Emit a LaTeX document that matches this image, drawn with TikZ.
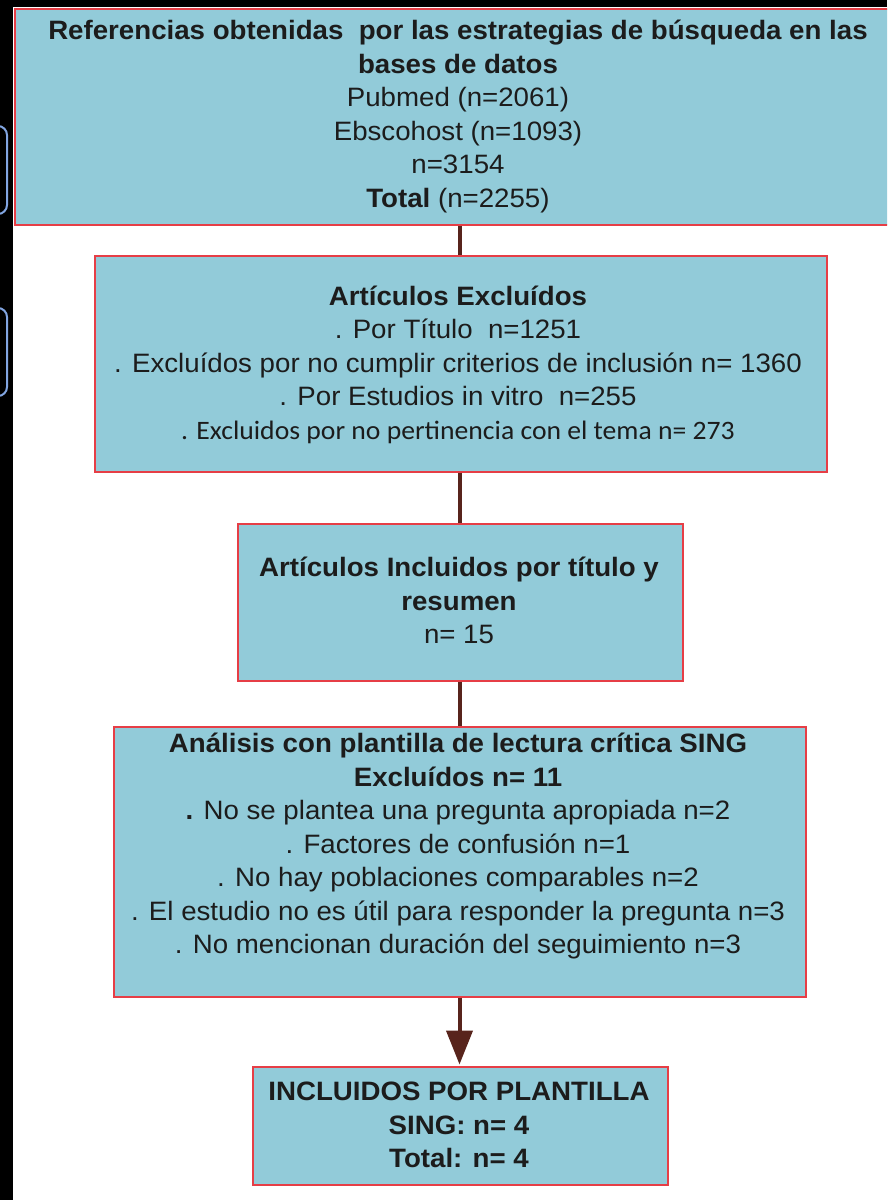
\documentclass[tikz,border=0pt]{standalone}
\usepackage{fontspec}
\setmainfont{Liberation Sans}[FakeStretch=1.04]
\newfontfamily\calfont{Carlito}[FakeStretch=1.04]
\usetikzlibrary{arrows.meta}
\definecolor{boxfill}{RGB}{146,203,217}
\definecolor{boxedge}{RGB}{230,62,70}
\definecolor{linkcol}{RGB}{88,36,28}
\definecolor{tabcol}{RGB}{130,165,225}
\definecolor{txtcol}{RGB}{28,28,28}
\tikzset{
  flowbox/.style={draw=boxedge, line width=2pt, fill=boxfill},
  boxtext/.style={anchor=north, inner sep=0pt, align=center, text=txtcol,
    font=\fontsize{26.6}{33.5}\selectfont},
  link/.style={draw=linkcol, line width=4pt},
  tab/.style={draw=tabcol, line width=2pt, rounded corners=9pt}
}
\begin{document}
\begin{tikzpicture}[x=1pt,y=-1pt]
\useasboundingbox (0,0) rectangle (887,1200);
\fill[white] (0,0) rectangle (887,1200);
\fill[black] (0,0) rectangle (13,1200);
\fill[black] (0,0) rectangle (887,7);
\begin{scope}
\clip (0,0) rectangle (13,1200);
\draw[tab] (-60,126) rectangle (7,214);
\draw[tab] (-60,308) rectangle (7,396);
\end{scope}
% boxes
\begin{scope}
\clip (0,0) rectangle (887,1200);
\node[flowbox, anchor=north west, minimum width=892pt, minimum height=216pt, inner sep=0pt] (b1) at (14,8) {};
\end{scope}
\node[flowbox, anchor=north west, minimum width=732pt, minimum height=216pt, inner sep=0pt] (b2) at (94,254.5) {};
\node[flowbox, anchor=north west, minimum width=445pt, minimum height=157pt, inner sep=0pt] (b3) at (237,522.5) {};
\node[flowbox, anchor=north west, minimum width=692pt, minimum height=270pt, inner sep=0pt] (b4) at (113,725.5) {};
\node[flowbox, anchor=north west, minimum width=415pt, minimum height=118pt, inner sep=0pt] (b5) at (252,1065.5) {};
% texts
\node[boxtext] (t1) at (458,39.5-23.45) {\strut\textbf{Referencias obtenidas\ \ por las estrategias de búsqueda en las}\\
  \textbf{bases de datos}\\ Pubmed (n=2061)\\ Ebscohost (n=1093)\\ n=3154\\ \textbf{Total} (n=2255)};
\node[boxtext] (t2) at (458,305-23.45) {\strut\textbf{Artículos Excluídos}\\ . Por Título\ \ n=1251\\
  . Excluídos por no cumplir criterios de inclusión n= 1360\\ . Por Estudios in vitro\ \ n=255\\
  {\calfont . Excluidos por no pertinencia con el tema n= 273}};
\node[boxtext] (t3) at (459,576.5-23.45) {\strut\textbf{Artículos Incluidos por título y}\\ \textbf{resumen}\\ n= 15};
\node[boxtext] (t4) at (458,752.5-23.45) {\strut\textbf{Análisis con plantilla de lectura crítica SING}\\
  \textbf{Excluídos n= 11}\\ \textbf{.} No se plantea una pregunta apropiada n=2\\ . Factores de confusión n=1\\
  . No hay poblaciones comparables n=2\\ . El estudio no es útil para responder la pregunta n=3\\
  . No mencionan duración del seguimiento n=3};
\node[boxtext] (t5) at (459,1100.5-23.45) {\strut\textbf{INCLUIDOS POR PLANTILLA}\\ \textbf{SING: n= 4}\\ \textbf{Total: n= 4}};
% connectors
\draw[link] (b1.south -| 459.5,0) -- (b2.north -| 459.5,0);
\draw[link] (b2.south -| 459.5,0) -- (b3.north -| 459.5,0);
\draw[link] (b3.south -| 459.5,0) -- (b4.north -| 459.5,0);
\draw[link, -{Triangle[length=34pt,width=26pt]}, shorten >=1pt] (b4.south -| 459.5,0) -- (b5.north -| 459.5,0);
\end{tikzpicture}
\end{document}
